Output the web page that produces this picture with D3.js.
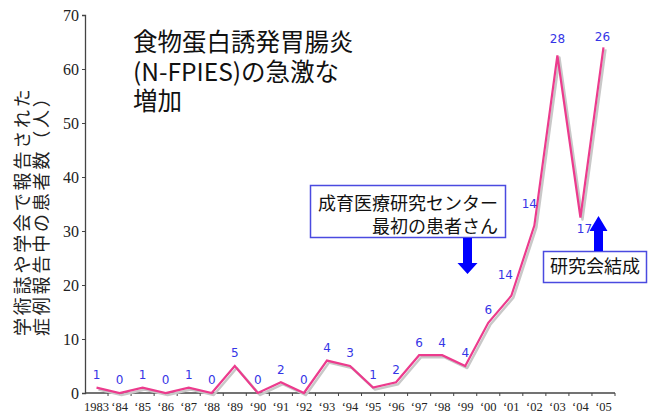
<!doctype html>
<html lang="ja">
  <head>
    <meta charset="utf-8">
    <title>N-FPIES 症例数の推移</title>
    <script src="https://d3js.org/d3.v7.min.js"></script>
    <style>
      body { margin: 0; background: #fff; }
      svg { display: block; }
    </style>
  </head>
  <body>
    <div id="container"></div>
  </body>
  <script>
    // data
    const years = ["1983", "‘84", "‘85", "‘86", "‘87", "‘88", "‘89", "‘90", "‘91", "‘92", "‘93",
                   "‘94", "‘95", "‘96", "‘97", "‘98", "‘99", "‘00", "‘01", "‘02", "‘03", "‘04", "‘05"]
    // height of the plotted line
    const lineValues = [1, 0, 1, 0, 1, 0, 5, 0, 2, 0, 6, 5, 1, 2, 7, 7, 5, 13, 18, 31, 62.5, 32.5, 64]
    // numbers written next to each point
    const pointLabels = [1, 0, 1, 0, 1, 0, 5, 0, 2, 0, 4, 3, 1, 2, 6, 4, 4, 6, 14, 14, 28, 17, 26]
    const yTicks = [0, 10, 20, 30, 40, 50, 60, 70]

    const titleLines = ["食物蛋白誘発胃腸炎", "(N-FPIES)の急激な", "増加"]
    const yTitleLines = ["学術誌や学会で報告された", "症例報告中の患者数（人）"]
    const noteCenter = ["成育医療研究センター", "最初の患者さん"]
    const noteGroup = "研究会結成"

    const width = 648
    const height = 416
    const margin = {top: 15, right: 33, bottom: 23, left: 85}

    const jpFont = "'Noto Sans CJK JP', 'Noto Sans', sans-serif"
    const serifFont = "'Liberation Serif', 'DejaVu Serif', serif"
    const pink = "#ec3b8d"
    const labelBlue = "#3535e6"

    const svg = d3.select("#container")
      .append("svg")
        .attr("width", width)
        .attr("height", height)

    const x = d3.scaleBand()
      .domain(years)
      .range([margin.left, width - margin.right])

    const y = d3.scaleLinear()
      .domain([0, 70])
      .range([height - margin.bottom, margin.top])

    // y axis
    const yAxis = svg.append("g")
      .attr("transform", `translate(${margin.left},0)`)
      .call(d3.axisLeft(y).tickValues(yTicks).tickSize(3).tickPadding(3))
    yAxis.select(".domain").attr("stroke", "#444").attr("stroke-width", 1.3)
    yAxis.selectAll(".tick line").attr("stroke", "#444")
    yAxis.selectAll(".tick text")
      .attr("font-family", serifFont)
      .attr("font-size", 16)
      .attr("fill", "#222")

    // x axis, ticks sit between categories
    const xAxisG = svg.append("g")
      .attr("transform", `translate(0,${y(0)})`)
    xAxisG.append("line")
      .attr("x1", margin.left).attr("x2", width - margin.right)
      .attr("stroke", "#444").attr("stroke-width", 1.3)
    xAxisG.selectAll(".xtick")
      .data(years)
      .join("line")
        .attr("class", "xtick")
        .attr("x1", d => x(d) + x.bandwidth())
        .attr("x2", d => x(d) + x.bandwidth())
        .attr("y1", 0).attr("y2", 3)
        .attr("stroke", "#444")
    xAxisG.selectAll(".xlabel")
      .data(years)
      .join("text")
        .attr("class", "xlabel")
        .attr("x", d => x(d) + x.bandwidth() / 2)
        .attr("y", 18)
        .attr("text-anchor", "middle")
        .attr("font-family", serifFont)
        .attr("font-size", 12.5)
        .attr("fill", "#222")
        .text(d => d)

    // multi-line text helper: one <text>, one tspan per line
    function multiLine(sel, lines, xPos, y0, step) {
      sel.selectAll("tspan")
        .data(lines)
        .join("tspan")
          .attr("x", xPos)
          .attr("y", (d, i) => y0 + i * step)
          .text(d => d)
      return sel
    }

    // rotated y title, two lines set tight like the slide
    const yTitle = svg.append("text")
      .attr("transform", "translate(0,336) rotate(-90)")
      .attr("font-family", jpFont)
      .attr("font-size", 18)
      .attr("letter-spacing", 2.8)
      .attr("fill", "#222")
    multiLine(yTitle, yTitleLines, 0, 29, 19)

    // line with soft shadow
    const pts = years.map((yr, i) => [x(yr) + x.bandwidth() / 2, y(lineValues[i])])
    const line = d3.line()

    svg.append("path")
      .attr("d", line(pts))
      .attr("transform", "translate(2,2)")
      .attr("fill", "none")
      .attr("stroke", "#c8c8c8")
      .attr("stroke-width", 2.5)
      .attr("stroke-linejoin", "round")
    svg.append("path")
      .attr("d", line(pts))
      .attr("fill", "none")
      .attr("stroke", pink)
      .attr("stroke-width", 2.2)
      .attr("stroke-linejoin", "miter")

    // number labels; a few are nudged beside or below the steep segments
    const nudge = {"‘01": [-6, -21], "‘02": [-5, -22], "‘03": [0, -17], "‘04": [4, 11], "‘05": [-1, -11]}
    svg.selectAll(".plabel")
      .data(years)
      .join("text")
        .attr("class", "plabel")
        .attr("x", (d, i) => pts[i][0] + (nudge[d] ? nudge[d][0] : 0))
        .attr("y", (d, i) => pts[i][1] + (nudge[d] ? nudge[d][1] : -13))
        .attr("dy", "0.36em")
        .attr("text-anchor", "middle")
        .attr("font-family", "'DejaVu Sans', Verdana, sans-serif")
        .attr("font-size", 12)
        .attr("fill", labelBlue)
        .text((d, i) => pointLabels[i])

    // title
    const title = svg.append("text")
      .attr("font-family", jpFont)
      .attr("font-size", 24.5)
      .attr("fill", "#111")
    multiLine(title, titleLines, 133, 51, 29.5)

    // annotation: first patient at the center
    svg.append("rect")
      .attr("x", 310.5).attr("y", 185.5)
      .attr("width", 195).attr("height", 52)
      .attr("fill", "#fff")
      .attr("stroke", "#4a4ae0").attr("stroke-width", 1.5)
    const note1 = svg.append("text")
      .attr("text-anchor", "end")
      .attr("font-family", jpFont)
      .attr("font-size", 18)
      .attr("fill", "#111")
    multiLine(note1, noteCenter, 498, 210, 23)

    // annotation: study group founded
    svg.append("rect")
      .attr("x", 543.5).attr("y", 251.5)
      .attr("width", 103).attr("height", 31)
      .attr("fill", "#fff")
      .attr("stroke", "#4a4ae0").attr("stroke-width", 1.5)
    svg.append("text")
      .attr("x", 595).attr("y", 273)
      .attr("text-anchor", "middle")
      .attr("font-family", jpFont)
      .attr("font-size", 18)
      .attr("fill", "#111")
      .text(noteGroup)

    // block arrows
    function blockArrow(cx, yFrom, yTo, shaftW, headW, headL) {
      const dir = yTo > yFrom ? 1 : -1
      const yHead = yTo - dir * headL
      const pts = [
        [cx - shaftW / 2, yFrom], [cx + shaftW / 2, yFrom], [cx + shaftW / 2, yHead],
        [cx + headW / 2, yHead], [cx, yTo], [cx - headW / 2, yHead], [cx - shaftW / 2, yHead]
      ]
      svg.append("path")
        .attr("d", `M${pts.join("L")}Z`)
        .attr("fill", "#0000ff")
    }
    blockArrow(467.5, 238, 274, 9, 20, 11)
    blockArrow(598.5, 251, 216, 9, 18, 15)
  </script>
</html>
